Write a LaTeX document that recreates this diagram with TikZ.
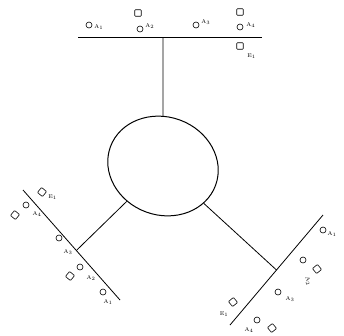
\documentclass[tikz,border=0pt]{standalone}
\usetikzlibrary{shapes.geometric,calc}
\begin{document}
\begin{tikzpicture}[x=1pt,y=-1pt,line width=0.8pt,
  lbl/.style={font=\fontsize{5.5}{6}\selectfont,inner sep=0pt},
  circ/.style={draw,circle,line width=0.6pt,minimum size=6pt,inner sep=0pt},
  sq/.style={draw,rectangle,line width=0.6pt,rounded corners=0.8pt,minimum size=6.5pt,inner sep=0pt}]
\useasboundingbox (0,0) rectangle (344,335);
% hub
\node[draw,ellipse,line width=1pt,minimum width=112,minimum height=98,rotate=-20] (hub) at (163,166) {};
% bars
\coordinate (t1) at (78,37); \coordinate (t2) at (262,37); \coordinate (t) at (163,37);
\coordinate (l1) at (23,190); \coordinate (l2) at (120,300); \coordinate (l) at ($(l1)!0.55!(l2)$);
\coordinate (r1) at (323,215); \coordinate (r2) at (230,325); \coordinate (r) at ($(r1)!0.5!(r2)$);
\draw (t1) -- (t2);
\draw (l1) -- (l2);
\draw (r1) -- (r2);
\draw (t) -- (hub);
\draw (l) -- (hub);
\draw (r) -- (hub);
% top bar
\node[circ] (ta1) at (89,25) {};
\node[lbl,anchor=west] at (94,27) {A$_1$};
\node[sq] (ts2) at (138,13) {};
\node[circ] (ta2) at (140,29) {};
\node[lbl,anchor=west] at (145,26) {A$_2$};
\node[circ] (ta3) at (196,25) {};
\node[lbl,anchor=west] at (201,22) {A$_3$};
\node[sq] (ts4) at (240,12) {};
\node[circ] (ta4) at (240,27) {};
\node[lbl,anchor=west] at (246,25) {A$_4$};
\node[sq] (te1) at (240,46) {};
\node[lbl,anchor=west] at (247,56) {E$_1$};
% left bar
\node[sq,rotate=-40] (le1) at (42,192) {};
\node[lbl,anchor=west] at (48,197) {E$_1$};
\node[circ] (la4) at (26,205) {};
\node[sq,rotate=-40] (ls4) at (15,215) {};
\node[lbl] at (37,214) {A$_4$};
\node[circ] (la3) at (59,238) {};
\node[lbl] at (68,252) {A$_3$};
\node[circ] (la2) at (80,267) {};
\node[sq,rotate=-40] (ls2) at (70,276) {};
\node[lbl] at (91,278) {A$_2$};
\node[circ] (la1) at (103,292) {};
\node[lbl] at (108,302) {A$_1$};
% right bar
\node[circ] (ra1) at (323,230) {};
\node[lbl] at (332,234) {A$_1$};
\node[circ] (ra2) at (303,260) {};
\node[sq,rotate=40] (rs2) at (317,269) {};
\node[lbl,rotate=-70] at (308,281) {A$_2$};
\node[circ] (ra3) at (278,292) {};
\node[lbl] at (290,299) {A$_3$};
\node[sq,rotate=40] (re1) at (233,302) {};
\node[lbl] at (224,314) {E$_1$};
\node[circ] (rb) at (257,320) {};
\node[sq,rotate=40] (rbs) at (272,328) {};
\node[lbl] at (249,330) {A$_4$};
\end{tikzpicture}
\end{document}
